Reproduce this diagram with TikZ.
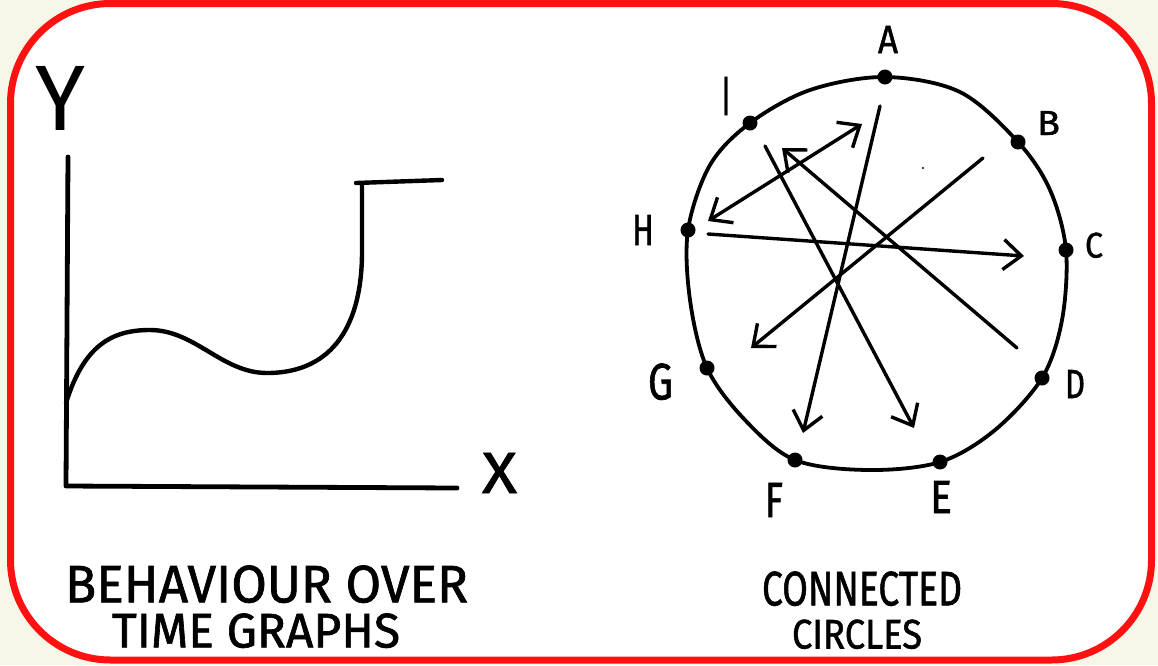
\documentclass[tikz,border=0pt]{standalone}
\usepackage{fontspec}
\usepackage{graphicx}
\setsansfont{Fira Sans}
\newfontfamily\handfont[FakeBold=1.3]{Fira Sans}
\usetikzlibrary{arrows.meta}
\definecolor{cream}{HTML}{F7F7E9}
\definecolor{frame}{HTML}{FF1111}
\newcommand\fitlbl[3]{\resizebox{#1pt}{#2pt}{\handfont #3}}
\tikzset{
  ink/.style={line width=4.4pt, line cap=round, line join=round, black},
  dotnode/.style={circle, fill=black, inner sep=0pt, minimum size=15pt},
  lbl/.style={anchor=south west, inner sep=0pt, outer sep=0pt},
  arrowline/.style={line width=3.4pt, line cap=round, -{Straight Barb[length=18pt,width=30pt,line width=3.4pt]}},
  dblarrow/.style={line width=3.4pt, line cap=round, {Straight Barb[length=18pt,width=30pt,line width=3.4pt]}-{Straight Barb[length=18pt,width=30pt,line width=3.4pt]}}
}
\begin{document}
\begin{tikzpicture}[x=1pt,y=-1pt]
\useasboundingbox (0,0) rectangle (1158,665);
\fill[cream] (0,0) rectangle (1158,665);
\draw[frame, fill=white, line width=7pt, rounded corners=100pt] (10.5,3.5) rectangle (1151.5,660);

% ---------- behaviour over time graph ----------
\node[lbl] (ylab) at (35,130) {\resizebox{50pt}{64pt}{\sffamily Y}};
\node[lbl] (xlab) at (482,493) {\fitlbl{35}{40}{X}};
\coordinate (ytop) at (68,157);
\coordinate (orig) at (66,486);
\coordinate (xend) at (457,488);
\draw[ink, line width=4.8pt] (ytop) -- (orig) -- (xend);
\coordinate (c0) at (66,403);
\coordinate (c1) at (150,330);
\coordinate (c2) at (267,373);
\coordinate (c3) at (362,252);
\coordinate (c4) at (362,184);
\coordinate (h0) at (356,183);
\coordinate (h1) at (442,180);
\draw[ink] (c0) .. controls (84,345) and (112,330) .. (c1)
  .. controls (195,330) and (222,373) .. (c2)
  .. controls (335,373) and (362,322) .. (c3) -- (c4);
\draw[ink] (h0) -- (h1);

\node[lbl] (t1) at (65,603) {\fitlbl{403}{37}{BEHAVIOUR OVER}};
\node[lbl] (t2) at (112,648) {\fitlbl{288}{34}{TIME GRAPHS}};

% ---------- connected circles ----------
\node[dotnode] (A) at (885,77) {};
\node[dotnode] (B) at (1018,142) {};
\node[dotnode] (C) at (1066,250) {};
\node[dotnode] (D) at (1042,378) {};
\node[dotnode] (E) at (940,462) {};
\node[dotnode] (F) at (795,460) {};
\node[dotnode] (G) at (707,368) {};
\node[dotnode] (H) at (688,230) {};
\node[dotnode] (I) at (750,123) {};

\draw[ink, line width=3.8pt] plot[smooth cycle, tension=0.55] coordinates
  {(885,77) (960,92) (1018,142) (1050,190) (1066,250) (1062,320) (1042,378) (995,430) (940,462) (868,470) (795,460) (745,420) (707,368) (690,300) (688,230) (710,165) (750,123) (810,90)};

\node[lbl] (la) at (878,53) {\fitlbl{20}{27}{A}};
\node[lbl] (lb) at (1037,135) {\fitlbl{23}{24}{B}};
\node[lbl] (lc) at (1085,258) {\fitlbl{18}{25}{C}};
\node[lbl] (ld) at (1065,398) {\fitlbl{20}{28}{D}};
\node[lbl] (le) at (930,513) {\fitlbl{22}{32}{E}};
\node[lbl] (lf) at (765,517) {\fitlbl{18}{34}{F}};
\node[lbl] (lg) at (648,400) {\fitlbl{25}{36}{G}};
\node[lbl] (lh) at (632,245) {\fitlbl{22}{30}{H}};
\node[lbl] (li) at (722,115) {\fitlbl{8}{38}{I}};

\coordinate (a1s) at (880,106);
\coordinate (a1t) at (803,433);
\coordinate (a2s) at (765,146);
\coordinate (a2t) at (914,428);
\coordinate (a3s) at (708,221);
\coordinate (a3t) at (862,124);
\coordinate (a4s) at (708,234);
\coordinate (a4t) at (1024,256);
\coordinate (a5s) at (983,158);
\coordinate (a5t) at (751,348);
\coordinate (a6s) at (1017,348);
\coordinate (a6t) at (782,148);
\draw[arrowline] (a1s) -- (a1t);
\draw[arrowline] (a2s) -- (a2t);
\draw[dblarrow] (a3s) -- (a3t);
\draw[arrowline] (a4s) -- (a4t);
\draw[arrowline] (a5s) -- (a5t);
\draw[arrowline] (a6s) -- (a6t);
\fill (923,168) circle (1.2pt);

\node[lbl] (t3) at (762,606) {\fitlbl{200}{34}{CONNECTED}};
\node[lbl] (t4) at (792,649) {\fitlbl{130}{29}{CIRCLES}};
\end{tikzpicture}
\end{document}
